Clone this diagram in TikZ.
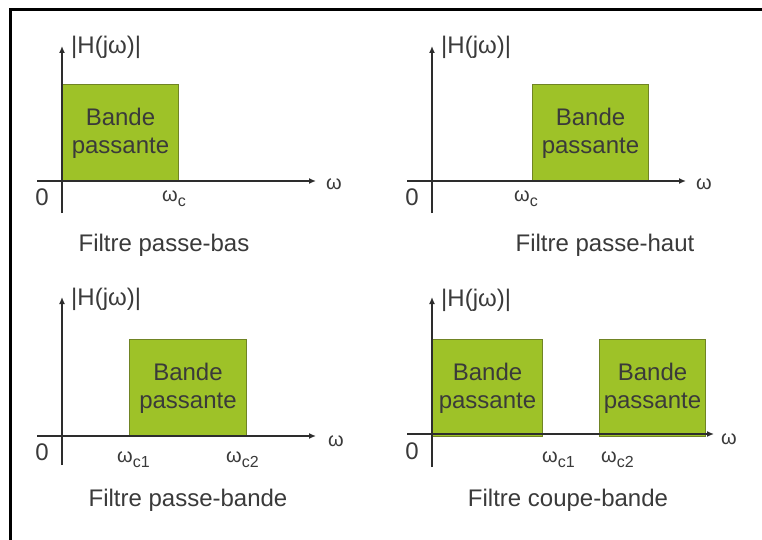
\documentclass[tikz,border=0pt]{standalone}
\usepackage{fontspec}
\setmainfont{Liberation Sans}
\usetikzlibrary{arrows.meta}
\definecolor{bandfill}{RGB}{158,194,40}
\definecolor{bandedge}{RGB}{112,132,36}
\definecolor{ink}{RGB}{58,58,58}
\definecolor{axisgray}{RGB}{45,45,45}
\newcommand{\wsub}[1]{ω\raisebox{-5pt}{\fontsize{16}{16}\selectfont #1}}
\begin{document}
\begin{tikzpicture}[x=1pt,y=-1pt,
  txt/.style={text=ink,font=\fontsize{24}{28}\selectfont,inner sep=0pt},
  small/.style={text=ink,font=\fontsize{20}{24}\selectfont,inner sep=0pt},
  band/.style={draw=bandedge,line width=1pt,fill=bandfill,text=ink,
    font=\fontsize{24}{28}\selectfont,align=center,inner sep=0pt,
    anchor=north west,minimum height=#1},
  band/.default=97pt,
  axis/.style={draw=axisgray,line width=2pt,-{Latex[length=7pt,width=6pt]}},
  frame/.style={draw=black,line width=3pt}]
\useasboundingbox (0,0) rectangle (762,540);
\fill[white] (0,0) rectangle (762,540);

% outer frame (top and left edges)
\coordinate (fbl) at (10,541);
\coordinate (ftl) at (10,10);
\coordinate (ftr) at (763,10);
\draw[frame] (fbl) -- (ftl) -- (ftr);

% ---------- low-pass ----------
\node[band,minimum width=116pt] (lpband) at (62,84) {Bande\\passante};
\coordinate (lpxa) at (37,181);  \coordinate (lpxb) at (316,181);
\coordinate (lpya) at (62,213);  \coordinate (lpyb) at (62,46);
\draw[axis] (lpxa) -- (lpxb);
\draw[axis] (lpya) -- (lpyb);
\node[txt,anchor=west] (lph) at (71,47) {|H(jω)|};
\node[txt] (lpzero) at (42,197) {0};
\node[small] (lpw) at (334,184) {ω};
\node[small,anchor=west] (lpwc) at (162,199) {\wsub{c}};
\node[txt] (lpcap) at (164,245) {Filtre passe-bas};

% ---------- high-pass ----------
\node[band,minimum width=116pt] (hpband) at (532,84) {Bande\\passante};
\coordinate (hpxa) at (407,181);  \coordinate (hpxb) at (686,181);
\coordinate (hpya) at (432,213);  \coordinate (hpyb) at (432,46);
\draw[axis] (hpxa) -- (hpxb);
\draw[axis] (hpya) -- (hpyb);
\node[txt,anchor=west] (hph) at (441,47) {|H(jω)|};
\node[txt] (hpzero) at (412,197) {0};
\node[small] (hpw) at (704,184) {ω};
\node[small,anchor=west] (hpwc) at (514,199) {\wsub{c}};
\node[txt] (hpcap) at (605,245) {Filtre passe-haut};

% ---------- band-pass ----------
\node[band,minimum width=117pt] (bpband) at (129,339) {Bande\\passante};
\coordinate (bpxa) at (37,436);  \coordinate (bpxb) at (316,436);
\coordinate (bpya) at (62,465);  \coordinate (bpyb) at (62,297);
\draw[axis] (bpxa) -- (bpxb);
\draw[axis] (bpya) -- (bpyb);
\node[txt,anchor=west] (bph) at (71,299) {|H(jω)|};
\node[txt] (bpzero) at (42,452) {0};
\node[small] (bpw) at (336,441) {ω};
\node[small,anchor=west] (bpwa) at (117,460) {\wsub{c1}};
\node[small,anchor=west] (bpwb) at (226,460) {\wsub{c2}};
\node[txt] (bpcap) at (188,500) {Filtre passe-bande};

% ---------- band-stop ----------
\node[band,minimum width=110pt] (bsbanda) at (432,339) {Bande\\passante};
\node[band,minimum width=106pt] (bsbandb) at (599,339) {Bande\\passante};
\coordinate (bsxa) at (407,434);  \coordinate (bsxb) at (714,434);
\coordinate (bsya) at (432,467);  \coordinate (bsyb) at (432,297);
\draw[axis] (bsxa) -- (bsxb);
\draw[axis] (bsya) -- (bsyb);
\node[txt,anchor=west] (bsh) at (441,300) {|H(jω)|};
\node[txt] (bszero) at (412,451) {0};
\node[small] (bsw) at (729,439) {ω};
\node[small,anchor=west] (bswa) at (542,460) {\wsub{c1}};
\node[small,anchor=west] (bswb) at (601,460) {\wsub{c2}};
\node[txt] (bscap) at (568,500) {Filtre coupe-bande};
\end{tikzpicture}
\end{document}
